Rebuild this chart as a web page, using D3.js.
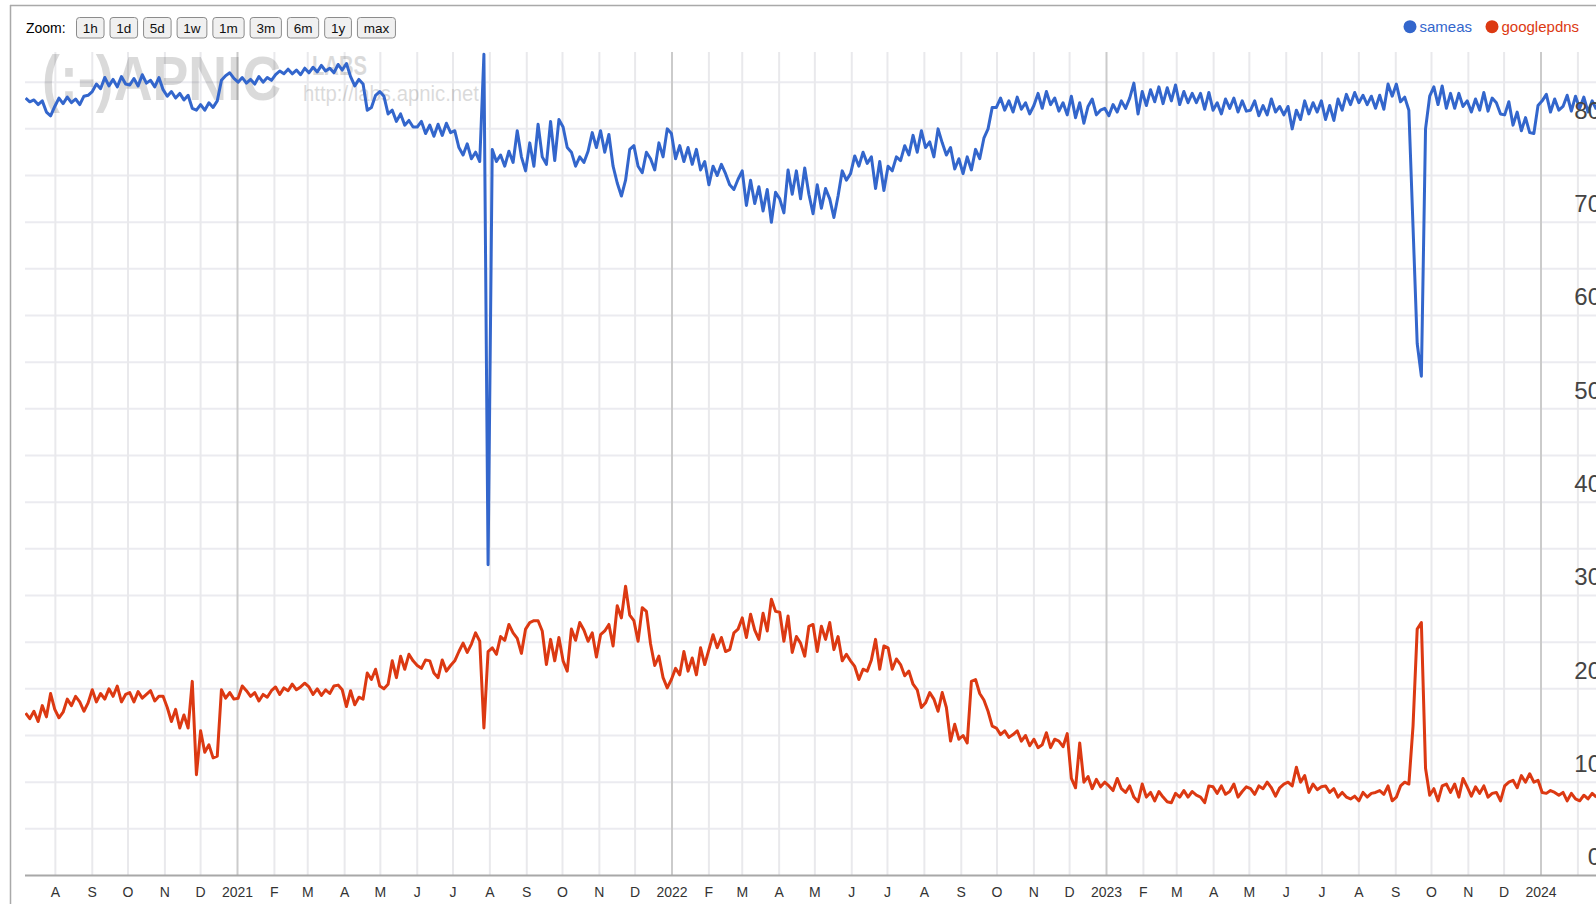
<!DOCTYPE html>
<html>
<head>
<meta charset="utf-8">
<script src="https://cdn.jsdelivr.net/npm/d3@7"></script>
<style>
html,body{margin:0;padding:0;background:#fff;overflow:hidden}
svg{display:block;font-family:Arial,"Liberation Sans",sans-serif}
</style>
</head>
<body>
<svg id="chart" width="1596" height="904"></svg>
<script>
// samples every 3.5 days starting 2020-07-07, one row per month
var firstDay = "2020-07-07";
var stepHours = 84;

var sameas = [
  83.3, 82.9, 83.1, 82.6, 83.0, 81.8, 81.4,
  82.4, 83.3, 82.7, 83.4, 82.8, 83.2, 82.6, 83.5, 83.6,
  84.0, 84.8, 84.3, 85.5, 84.6, 85.3, 84.5, 85.6, 84.8,
  84.7, 85.4, 84.6, 85.8, 84.9, 85.2, 84.5, 85.5,
  84.2, 83.5, 84.0, 83.3, 83.8, 83.1, 83.6, 82.2, 82.0,
  82.6, 82.0, 82.8, 82.3, 83.0, 85.2, 85.7, 86.0, 85.4,
  85.0, 85.5, 84.9, 85.3, 84.8, 85.6, 85.0, 85.5, 85.2,
  85.8, 86.2, 85.9, 86.4, 85.9, 86.3, 85.8, 86.5,
  86.0, 86.6, 86.1, 86.8, 86.2, 86.5, 86.0, 86.9, 86.3,
  87.0, 85.6, 84.6, 85.3, 84.8, 82.0, 82.3, 83.6,
  84.0, 83.5, 81.6, 82.0, 80.8, 81.6, 80.4, 80.9, 80.2,
  80.2, 80.8, 79.5, 80.4, 79.2, 80.5, 79.3, 80.6, 79.6,
  79.8, 78.0, 77.2, 78.4, 76.8, 77.5, 76.5, 88.0,
  33.3, 77.8, 76.5, 77.2, 76.0, 77.6, 76.4, 79.8, 77.0,
  75.5, 78.5, 76.0, 80.5, 77.0, 76.2, 80.8, 76.6, 81.0,
  80.2, 78.0, 77.5, 76.0, 77.0, 76.4, 77.6, 79.6, 78.0,
  79.8, 77.5, 79.4, 76.0, 74.2, 72.8, 74.5, 77.8,
  78.2, 76.0, 75.3, 77.5, 76.8, 75.6, 78.5, 77.0, 80.0,
  79.5, 76.8, 78.2, 76.5, 78.0, 76.2, 77.8, 75.6, 76.5,
  74.0, 76.0, 75.0, 76.2, 75.2, 74.0, 73.5, 74.6,
  75.5, 71.8, 74.5, 72.0, 73.8, 71.2, 73.5, 70.0, 73.2,
  72.5, 71.0, 75.6, 73.0, 75.5, 72.5, 75.8, 73.0,
  70.9, 74.0, 71.5, 73.6, 72.5, 70.5, 72.8, 75.5, 74.5,
  75.2, 77.1, 76.0, 77.5, 76.3, 77.0, 73.6, 76.5, 73.4,
  76.0, 75.5, 77.0, 76.6, 78.2, 77.2, 79.3, 77.5, 79.8,
  78.0, 78.6, 77.0, 80.0, 78.5, 77.2, 78.0, 75.7, 76.8,
  75.2, 77.0, 75.6, 77.8, 76.8, 79.0, 80.0, 82.3,
  82.3, 83.3, 82.0, 83.0, 81.8, 83.4, 82.1, 82.8, 81.6,
  82.5, 83.8, 82.2, 84.0, 82.6, 83.3, 81.9, 82.8, 81.5,
  83.5, 81.2, 82.8, 80.6, 82.4, 83.2, 81.5, 82.0,
  82.2, 81.4, 82.6, 81.8, 83.0, 82.2, 83.3, 84.9, 81.6,
  84.0, 82.5, 84.2, 82.9, 84.5, 82.7, 84.4, 83.0,
  84.7, 82.6, 84.0, 82.8, 83.8, 82.8, 83.8, 82.1, 83.9,
  82.0, 82.8, 81.6, 83.2, 82.2, 83.3, 81.8, 83.0, 81.9,
  82.0, 83.0, 81.4, 82.5, 81.5, 83.2, 81.8, 82.4, 81.5,
  82.4, 80.0, 82.0, 81.0, 83.0, 81.6, 82.8, 81.8,
  83.0, 81.0, 82.5, 80.9, 83.2, 82.0, 83.7, 82.6, 83.9,
  82.8, 83.6, 82.6, 83.5, 82.2, 83.6, 82.1, 84.8, 83.5,
  84.8, 82.9, 83.4, 82.0, 69.5, 57.0, 53.5, 80.0,
  83.5, 84.5, 82.6, 84.6, 82.2, 83.8, 82.2, 83.8, 82.4,
  83.0, 81.8, 83.2, 82.0, 83.9, 81.9, 83.3, 82.8, 81.6,
  81.5, 82.9, 80.4, 81.8, 79.8, 81.2, 79.6, 79.5, 82.5,
  83.0, 83.7, 81.8, 83.2, 82.0, 82.4, 83.6, 81.9, 83.5,
  82.2, 83.4, 81.8, 83.0, 82.1
];

var googlepdns = [
  17.4, 16.8, 17.6, 16.5, 18.2, 17.0, 19.5,
  17.8, 16.9, 17.5, 18.9, 18.2, 19.2, 18.6, 17.6, 18.5,
  19.9, 18.6, 19.5, 18.9, 20.0, 19.2, 20.3, 18.6, 19.4,
  19.6, 18.6, 19.7, 19.0, 19.4, 19.8, 18.7, 19.2,
  19.2, 18.0, 16.5, 17.8, 15.8, 17.2, 15.8, 20.8, 10.8,
  15.5, 13.2, 14.0, 12.6, 12.8, 19.9, 19.0, 19.6, 18.9,
  19.0, 20.3, 19.8, 19.2, 19.6, 18.7, 19.4, 19.1, 19.8,
  20.2, 19.4, 20.1, 19.8, 20.5, 19.9, 20.2, 20.6,
  20.2, 19.4, 20.0, 19.3, 19.9, 19.5, 20.3, 20.4, 19.9,
  18.1, 19.8, 18.3, 19.1, 18.9, 21.7, 21.0, 22.1,
  20.3, 20.0, 20.5, 23.0, 21.2, 23.5, 22.1, 23.7, 23.0,
  22.5, 22.2, 23.1, 23.0, 21.7, 21.2, 23.1, 21.9, 22.5,
  23.0, 24.0, 24.9, 23.9, 24.8, 26.0, 25.1, 15.8,
  24.0, 24.4, 23.7, 25.6, 25.2, 26.9, 26.0, 25.4, 23.8,
  26.4, 27.1, 27.3, 27.3, 26.2, 22.6, 25.3, 23.0, 25.5,
  23.0, 21.9, 26.4, 25.2, 27.1, 26.3, 25.1, 26.0, 23.4,
  25.8, 26.2, 26.9, 24.6, 28.9, 27.6, 31.0, 27.9,
  27.3, 25.1, 28.7, 28.3, 24.8, 22.5, 23.5, 21.2, 20.1,
  21.0, 22.2, 21.5, 24.0, 21.9, 23.3, 21.5, 24.4, 22.6,
  24.2, 25.8, 24.4, 25.5, 24.0, 24.2, 26.0, 26.4,
  27.6, 25.5, 28.0, 26.3, 25.3, 28.1, 26.2, 29.6, 28.3,
  28.2, 25.1, 27.8, 23.9, 25.6, 24.9, 23.5, 26.7,
  26.9, 24.0, 26.7, 25.3, 27.1, 24.2, 25.6, 23.0, 23.7,
  23.0, 22.4, 21.0, 22.1, 21.9, 23.1, 25.3, 22.1, 24.6,
  24.4, 22.1, 23.2, 22.6, 21.4, 21.9, 20.5, 19.9, 18.0,
  18.5, 19.6, 18.9, 17.6, 19.6, 18.0, 14.4, 16.2, 14.6,
  15.0, 14.2, 20.8, 21.0, 19.5, 18.8, 17.6, 16.0,
  15.8, 15.1, 15.5, 14.8, 15.1, 15.5, 14.4, 15.0, 13.9,
  14.6, 13.7, 14.0, 15.3, 13.7, 14.6, 14.4, 13.8, 15.2,
  10.4, 9.4, 14.2, 10.0, 10.6, 9.3, 10.3, 9.5,
  10.0, 9.6, 9.1, 10.4, 9.3, 8.9, 9.6, 8.4, 7.9,
  9.8, 8.4, 8.9, 8.0, 9.0, 8.4, 7.9, 7.8,
  8.8, 8.4, 9.1, 8.4, 9.0, 8.6, 8.4, 7.8, 9.6,
  9.5, 8.8, 9.6, 8.7, 9.0, 9.8, 8.4, 9.0, 9.5,
  9.3, 8.7, 9.6, 9.3, 10.0, 9.4, 8.5, 9.4, 9.8,
  10.0, 9.6, 11.6, 10.0, 10.7, 8.9, 9.8, 9.2,
  9.5, 9.6, 8.9, 9.3, 8.4, 8.9, 8.4, 8.2, 8.5,
  8.0, 8.9, 8.4, 8.8, 8.9, 9.1, 8.7, 9.6, 8.0,
  8.4, 9.6, 10.0, 9.8, 16.0, 26.4, 27.1, 11.5,
  8.6, 9.3, 8.0, 9.6, 9.8, 8.9, 9.8, 8.4, 10.4,
  9.5, 8.5, 9.5, 8.8, 9.6, 8.4, 8.8, 8.9, 8.0,
  9.6, 10.0, 10.2, 9.4, 10.7, 10.0, 10.9, 10.0, 10.2,
  8.9, 8.8, 9.1, 8.9, 8.6, 8.9, 8.0, 8.8, 8.2,
  8.0, 8.6, 8.2, 8.8, 8.4
];

var seriesNames = ["sameas", "googlepdns"];
var seriesColors = ["#3366cc", "#dc3912"];
var zoomButtons = ["1h", "1d", "5d", "1w", "1m", "3m", "6m", "1y", "max"];
var yTicks = [0, 10, 20, 30, 40, 50, 60, 70, 80];
var monthLetters = ["J","F","M","A","M","J","J","A","S","O","N","D"];

var W = 1596, H = 904;
var plot = {left: 25, top: 52, right: 1596, bottom: 875.5};

var svg = d3.select("#chart");

var x = d3.scaleUtc()
  .domain([new Date("2021-01-01T00:00:00Z"), new Date("2024-01-01T00:00:00Z")])
  .range([237.5, 1541]);
var y = d3.scaleLinear()
  .domain([0, 80])
  .range([plot.bottom, plot.bottom - 80 * 9.333]);

var t0 = new Date(firstDay + "T00:00:00Z").getTime();
function dateAt(i) { return new Date(t0 + i * stepHours * 3600e3); }

svg.append("clipPath").attr("id", "plotclip")
  .append("rect")
  .attr("x", plot.left).attr("y", plot.top)
  .attr("width", plot.right - plot.left).attr("height", plot.bottom - plot.top);

// frame
svg.append("line").attr("x1", 10).attr("x2", W).attr("y1", 5.5).attr("y2", 5.5)
  .attr("stroke", "#a9a9a9").attr("stroke-width", 1.5);
svg.append("line").attr("x1", 10.5).attr("x2", 10.5).attr("y1", 5).attr("y2", H)
  .attr("stroke", "#a9a9a9").attr("stroke-width", 1.5);

// zoom bar
svg.append("text").attr("x", 26).attr("y", 33).attr("font-size", 14).attr("fill", "#000").text("Zoom:");
var bx = 76.5;
zoomButtons.forEach(function(b) {
  var g = svg.append("g");
  var t = g.append("text").attr("y", 32.5).attr("font-size", 13.5).attr("fill", "#111")
    .attr("text-anchor", "middle").text(b);
  var w = t.node().getComputedTextLength() + 12.5;
  g.insert("rect", "text").attr("x", bx).attr("y", 17.5).attr("width", w).attr("height", 20.5)
    .attr("rx", 3).attr("fill", "#f0f0f0").attr("stroke", "#8c8c8c").attr("stroke-width", 1);
  t.attr("x", bx + w / 2);
  bx += w + 6;
});

// legend
var legX = [1410, 1492];
seriesNames.forEach(function(n, i) {
  svg.append("circle").attr("cx", legX[i]).attr("cy", 26.7).attr("r", 6.5).attr("fill", seriesColors[i]);
  svg.append("text").attr("x", legX[i] + 9.5).attr("y", 31.7).attr("font-size", 15)
    .attr("fill", seriesColors[i]).text(n);
});

// gridlines
var grid = svg.append("g");
grid.selectAll("line.h").data(d3.range(5, 90, 5)).enter().append("line")
  .attr("x1", plot.left).attr("x2", plot.right)
  .attr("y1", function(d) { return y(d); }).attr("y2", function(d) { return y(d); })
  .attr("stroke", "#ebebf0").attr("stroke-width", 2);

var months = d3.utcMonth.range(new Date("2020-08-01T00:00:00Z"), new Date("2024-03-01T00:00:00Z"))
  .filter(function(d) { return x(d) <= plot.right; });
grid.selectAll("line.v").data(months).enter().append("line")
  .attr("x1", function(d) { return x(d); }).attr("x2", function(d) { return x(d); })
  .attr("y1", plot.top).attr("y2", plot.bottom)
  .attr("stroke", function(d) { return d.getUTCMonth() === 0 ? "#cbcbcb" : "#e9e9ec"; })
  .attr("stroke-width", 2);

// watermark
var wm = svg.append("g").attr("clip-path", "url(#plotclip)").attr("fill", "#000").attr("opacity", 0.14)
  .attr("font-weight", "bold");
wm.append("text").attr("x", 42).attr("y", 100).attr("font-size", 63)
  .attr("textLength", 239).attr("lengthAdjust", "spacingAndGlyphs").text("(:-)APNIC");
wm.append("text").attr("x", 312).attr("y", 75).attr("font-size", 28)
  .attr("textLength", 55).attr("lengthAdjust", "spacingAndGlyphs").text("LABS");
wm.append("text").attr("x", 303).attr("y", 101).attr("font-size", 22).attr("font-weight", "normal")
  .attr("textLength", 176).attr("lengthAdjust", "spacingAndGlyphs").text("http://labs.apnic.net");

// series
var line = d3.line()
  .x(function(d, i) { return x(dateAt(i)); })
  .y(function(d) { return y(d); });
var lines = svg.append("g").attr("clip-path", "url(#plotclip)");
[sameas, googlepdns].forEach(function(s, i) {
  lines.append("path").datum(s)
    .attr("d", line)
    .attr("fill", "none")
    .attr("stroke", seriesColors[i])
    .attr("stroke-width", 3)
    .attr("stroke-linejoin", "round");
});

// x axis
svg.append("line").attr("x1", plot.left).attr("x2", plot.right)
  .attr("y1", plot.bottom).attr("y2", plot.bottom)
  .attr("stroke", "#a8a8a8").attr("stroke-width", 2);
svg.selectAll("text.month").data(months.filter(function(d) { return x(d) < 1560; }))
  .enter().append("text")
  .attr("x", function(d) { return x(d); })
  .attr("y", 896.5)
  .attr("text-anchor", "middle")
  .attr("font-size", 14)
  .attr("fill", "#333")
  .text(function(d) { return d.getUTCMonth() === 0 ? d.getUTCFullYear() : monthLetters[d.getUTCMonth()]; });

// y labels (right side, partly cut by the page edge)
svg.selectAll("text.ylab").data(yTicks).enter().append("text")
  .attr("x", 1601)
  .attr("y", function(d) { return y(d) - 10.3; })
  .attr("text-anchor", "end")
  .attr("font-size", 24)
  .attr("fill", "#444")
  .text(function(d) { return d; });
</script>
</body>
</html>
